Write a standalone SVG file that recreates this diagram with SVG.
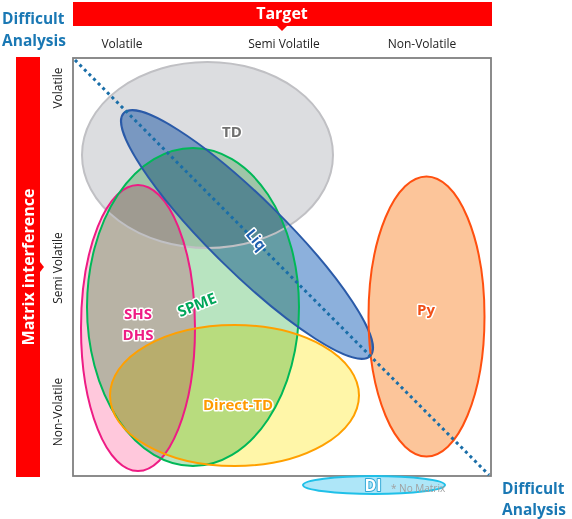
<svg xmlns="http://www.w3.org/2000/svg" width="572" height="519" viewBox="0 0 572 519">
<style>
.lbl{font-family:"Open Sans","Noto Sans","Liberation Sans",sans-serif;font-weight:bold;font-size:15px;text-anchor:middle;paint-order:stroke;stroke:#fff;stroke-width:3px;stroke-linejoin:round}
.axis{font-family:"Open Sans","Noto Sans","Liberation Sans",sans-serif;font-size:12px;fill:#222;text-anchor:middle}
.hdr{font-family:"Open Sans","Noto Sans","Liberation Sans",sans-serif;font-weight:bold;font-size:16px;fill:#fff;text-anchor:middle}
.diff{font-family:"Open Sans","Noto Sans","Liberation Sans",sans-serif;font-weight:bold;font-size:15.5px;fill:#1a78b4}
.fill{mix-blend-mode:multiply;stroke:none}
.line{fill:none;stroke-width:2}
</style>
<rect width="572" height="519" fill="#fff"/>
<g id="header-top">
<rect x="73" y="2" width="419" height="24" fill="#ff0000"/>
<polygon points="277,26 287,26 282,31" fill="#ff0000"/>
<text class="hdr" x="282" y="19">Target</text>
</g>
<g id="header-left">
<rect x="16" y="57" width="24" height="420" fill="#ff0000"/>
<polygon points="40,262 40,272 44,267" fill="#ff0000"/>
<text class="hdr" transform="translate(34,267) rotate(-90)" x="0" y="0">Matrix interference</text>
</g>
<text class="diff" x="2" y="24">Difficult</text>
<text class="diff" x="2" y="46">Analysis</text>
<text class="diff" x="502" y="494">Difficult</text>
<text class="diff" x="502" y="515">Analysis</text>
<g id="axis-labels">
<text class="axis" x="122" y="48">Volatile</text>
<text class="axis" x="284" y="48">Semi Volatile</text>
<text class="axis" x="422" y="48">Non-Volatile</text>
<text class="axis" transform="translate(62,88) rotate(-90)">Volatile</text>
<text class="axis" transform="translate(62,268) rotate(-90)">Semi Volatile</text>
<text class="axis" transform="translate(62,412) rotate(-90)">Non-Volatile</text>
</g>
<rect x="73" y="58" width="418" height="418" fill="#fff" stroke="#808080" stroke-width="1.8"/>
<g id="TD"><ellipse class="fill" cx="207.5" cy="155" rx="125.5" ry="93" fill="#dcdde0"/></g>
<g id="SHS-DHS"><ellipse class="fill" cx="138" cy="328" rx="57" ry="143" fill="#ffc8dc"/></g>
<g id="SPME"><ellipse class="fill" cx="193" cy="307" rx="106" ry="159" fill="#b8e4c0"/></g>
<g id="Direct-TD"><ellipse class="fill" cx="234.5" cy="395.5" rx="124.5" ry="70.5" fill="#fff6a8"/></g>
<g id="Liq"><ellipse class="fill" cx="247" cy="234.5" rx="173" ry="37" transform="rotate(44.6 247 234.5)" fill="#8cb0dc"/></g>
<g id="Py"><ellipse class="fill" cx="426.5" cy="316.5" rx="58" ry="140" fill="#fcc59a"/></g>
<g id="DI"><ellipse class="fill" cx="374" cy="485" rx="71" ry="9" fill="#aee6f8"/></g>
<g id="outlines">
<ellipse class="line" cx="207.5" cy="155" rx="125.5" ry="93" stroke="#c0c0c4" stroke-width="2.5"/>
<ellipse class="line" cx="138" cy="328" rx="57" ry="143" stroke="#ee1c84"/>
<ellipse class="line" cx="193" cy="307" rx="106" ry="159" stroke="#00b858"/>
<ellipse class="line" cx="234.5" cy="395.5" rx="124.5" ry="70.5" stroke="#ffa000"/>
<ellipse class="line" cx="247" cy="234.5" rx="173" ry="37" transform="rotate(44.6 247 234.5)" stroke="#2a5aa8"/>
<ellipse class="line" cx="426.5" cy="316.5" rx="58" ry="140" stroke="#ff5010"/>
<ellipse class="line" cx="374" cy="485" rx="71" ry="9" stroke="#20c0e8"/>
</g>
<g id="connectors">
<line x1="75" y1="60" x2="489" y2="475" stroke="#1a6ea8" stroke-width="3" stroke-dasharray="3 3.5"/>
</g>
<g id="labels">
<text class="lbl" x="232" y="137" fill="#707070">TD</text>
<text class="lbl" transform="translate(256,240) rotate(50)" y="5" fill="#1f5fae">Liq</text>
<text class="lbl" x="138" y="319" fill="#ee1c84">SHS</text>
<text class="lbl" x="138" y="340" fill="#ee1c84">DHS</text>
<text class="lbl" transform="translate(197,305) rotate(-22)" y="5" fill="#00a65a">SPME</text>
<text class="lbl" x="238" y="410" fill="#ff9a00">Direct-TD</text>
<text class="lbl" x="426" y="315" fill="#f05018">Py</text>
<text class="lbl" x="373" y="491" fill="#fff" style="stroke:#30a8d8;stroke-width:2px;font-size:16px">DI</text>
<text x="391" y="492" font-family="'Open Sans','Noto Sans','Liberation Sans',sans-serif" font-size="10" fill="#a0a0a0">* No Matrix</text>
</g>
</svg>
